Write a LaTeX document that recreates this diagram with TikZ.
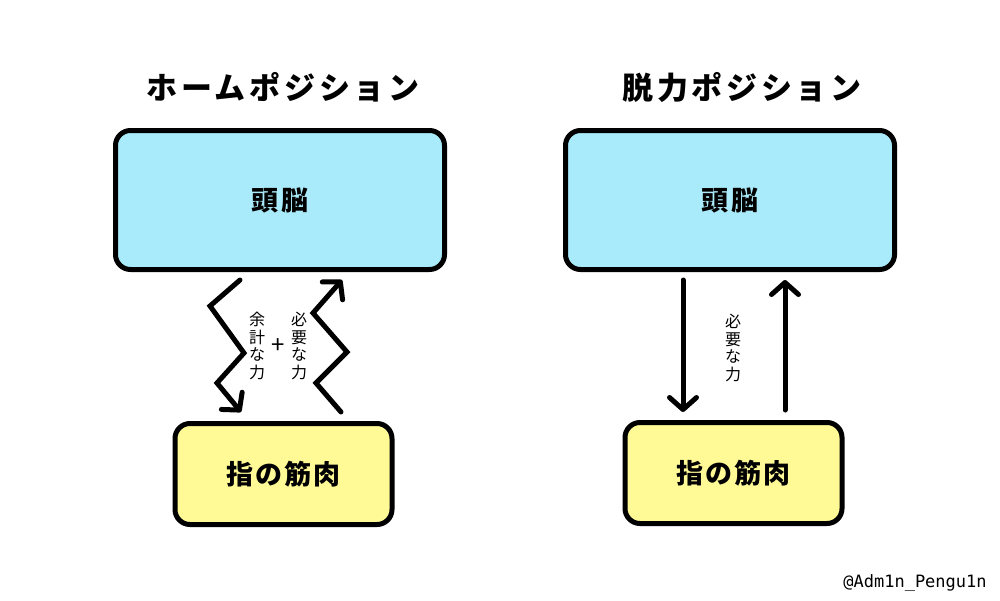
\documentclass[tikz,border=0pt]{standalone}
\usepackage{fontspec}
\usetikzlibrary{arrows.meta,calc}
\newfontfamily\jp{Noto Sans CJK JP}
\newfontfamily\jptitle[LetterSpace=12]{Noto Sans CJK JP}
\newfontfamily\jpbox[LetterSpace=8]{Noto Sans CJK JP}
\newfontfamily\wmfont{DejaVu Sans Mono}
\definecolor{brainblue}{RGB}{170,235,251}
\definecolor{muscleyellow}{RGB}{255,250,150}
\tikzset{
  brainbox/.style={draw=black, line width=5pt, rounded corners=15pt, fill=brainblue,
    minimum width=329pt, minimum height=139pt, inner sep=0pt,
    font=\jpbox\bfseries\fontsize{27}{30}\selectfont},
  musclebox/.style={draw=black, line width=5pt, rounded corners=15pt, fill=muscleyellow,
    minimum width=217pt, minimum height=101pt, inner sep=0pt,
    font=\jpbox\bfseries\fontsize{27}{30}\selectfont},
  titletext/.style={font=\jptitle\bfseries\fontsize{31}{34}\selectfont, inner sep=0pt},
  vlabel/.style={font=\jp\fontsize{16}{17.5}\selectfont, align=center, inner sep=0pt},
  arr/.style={line width=5pt, line cap=round,
    -{Straight Barb[length=12pt,width=27pt,round]}},
}
\begin{document}
\begin{tikzpicture}[x=1pt,y=-1pt]
\fill[white] (0,0) rectangle (1000,600);
\useasboundingbox (0,0) rectangle (1000,600);

% titles
\node[titletext] (titleL) at (283,87) {ホームポジション};
\node[titletext] (titleR) at (742,87) {脱力ポジション};

% boxes
\node[brainbox] (brainL) at (280,200) {頭脳};
\node[brainbox] (brainR) at (730,200) {頭脳};
\node[musclebox] (muscleL) at (283.5,474) {指の筋肉};
\node[musclebox] (muscleR) at (733.5,473) {指の筋肉};

% left zigzag connectors
\coordinate (zd1) at (210,306);
\coordinate (zd2) at (244,353);
\coordinate (zd3) at (217,383);
\draw[arr] ([xshift=-40pt,yshift=-8pt]brainL.south) -- (zd1) -- (zd2) -- (zd3)
  -- ([xshift=-42.5pt,yshift=9pt]muscleL.north);
\coordinate (zu1) at (316,383);
\coordinate (zu2) at (347,352);
\coordinate (zu3) at (313,313);
\draw[arr] ([xshift=57.5pt,yshift=9pt]muscleL.north) -- (zu1) -- (zu2) -- (zu3)
  -- ([xshift=62pt,yshift=-8pt]brainL.south);

% left labels
\node[vlabel] (labL1) at (257,346) {余\\計\\な\\力};
\node[font=\jp\fontsize{24}{24}\selectfont, inner sep=0pt] (plusL) at (278,346) {+};
\node[vlabel] (labL2) at (299,346) {必\\要\\な\\力};

% right straight connectors
\draw[arr] ([xshift=-47pt,yshift=-8pt]brainR.south) -- ([xshift=-50.5pt,yshift=8pt]muscleR.north);
\draw[arr] ([xshift=51.5pt,yshift=10pt]muscleR.north) -- ([xshift=55pt,yshift=-8pt]brainR.south);
\node[vlabel] (labR) at (733,348) {必\\要\\な\\力};

% watermark
\node[font=\wmfont\fontsize{17}{17}\selectfont, inner sep=0pt] (wm) at (915,583) {@Adm1n\_Pengu1n};
\end{tikzpicture}
\end{document}
